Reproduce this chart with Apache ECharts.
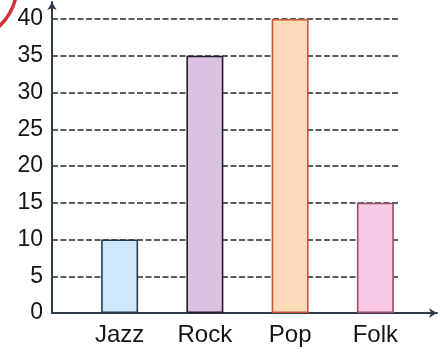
<!DOCTYPE html>
<html>
<head>
<meta charset="utf-8">
<script src="https://cdn.jsdelivr.net/npm/echarts@6/dist/echarts.min.js"></script>
<style>html,body{margin:0;padding:0;background:#fff}#c{width:440px;height:353px}</style>
</head>
<body>
<div id="c"></div>
<script>
var categories = ['Jazz', 'Rock', 'Pop', 'Folk'];
var values = [10, 35, 40, 15];
var barFills = ['#cfe7fb', '#dcc2e2', '#fcd9b8', '#f8c8e4'];
var barBorders = ['#2c3a4a', '#1f1f2a', '#c8553a', '#9a4e6a'];
var yMin = 0, yMax = 40, yStep = 5;

var chart = echarts.init(document.getElementById('c'));
var font = '"Liberation Sans", Arial, sans-serif';
var axisColor = '#2f3a4a';
chart.setOption({
  animation: false,
  backgroundColor: '#ffffff',
  grid: [
    {left: 77, right: 22, top: 19, bottom: 40},  // bars
    {left: 52, right: 42, top: 19, bottom: 40},  // gridlines + y labels
    {left: 52, right: 3, top: 2, bottom: 40}     // axis lines with arrows
  ],
  xAxis: [
    {gridIndex: 0, type: 'category', data: categories,
     axisLine: {show: false}, axisTick: {show: false},
     axisLabel: {color: '#151515', fontSize: 24, fontFamily: font, margin: 10}},
    {gridIndex: 1, type: 'value', min: 0, max: 1, show: false},
    {gridIndex: 2, type: 'value', min: 0, max: 1,
     axisLine: {show: true, lineStyle: {color: axisColor, width: 2}, symbol: ['none', 'arrow'], symbolSize: [7, 8]},
     axisTick: {show: false}, axisLabel: {show: false}, splitLine: {show: false}}
  ],
  yAxis: [
    {gridIndex: 0, type: 'value', min: yMin, max: yMax, interval: yStep, show: false},
    {gridIndex: 1, type: 'value', min: yMin, max: yMax, interval: yStep,
     axisLine: {show: false}, axisTick: {show: false},
     axisLabel: {color: '#151515', fontSize: 23, fontFamily: font, margin: 9},
     splitLine: {show: true, lineStyle: {color: '#2a2a2a', width: 1.7, type: [6, 2.5]}}},
    {gridIndex: 2, type: 'value', min: 0, max: 1,
     axisLine: {show: true, lineStyle: {color: axisColor, width: 2}, symbol: ['none', 'arrow'], symbolSize: [7, 8]},
     axisTick: {show: false}, axisLabel: {show: false}, splitLine: {show: false}}
  ],
  series: [{
    type: 'bar', xAxisIndex: 0, yAxisIndex: 0, barWidth: 37,
    data: values.map(function (v, i) {
      return {value: v, itemStyle: {color: barFills[i], borderColor: barBorders[i], borderWidth: 1.6}};
    }),
    z: 3
  }],
  graphic: [{
    type: 'circle', shape: {cx: -40, cy: -15, r: 57},
    style: {fill: 'none', stroke: '#d2303a', lineWidth: 3.5}, z: 10
  }]
});
</script>
</body>
</html>
